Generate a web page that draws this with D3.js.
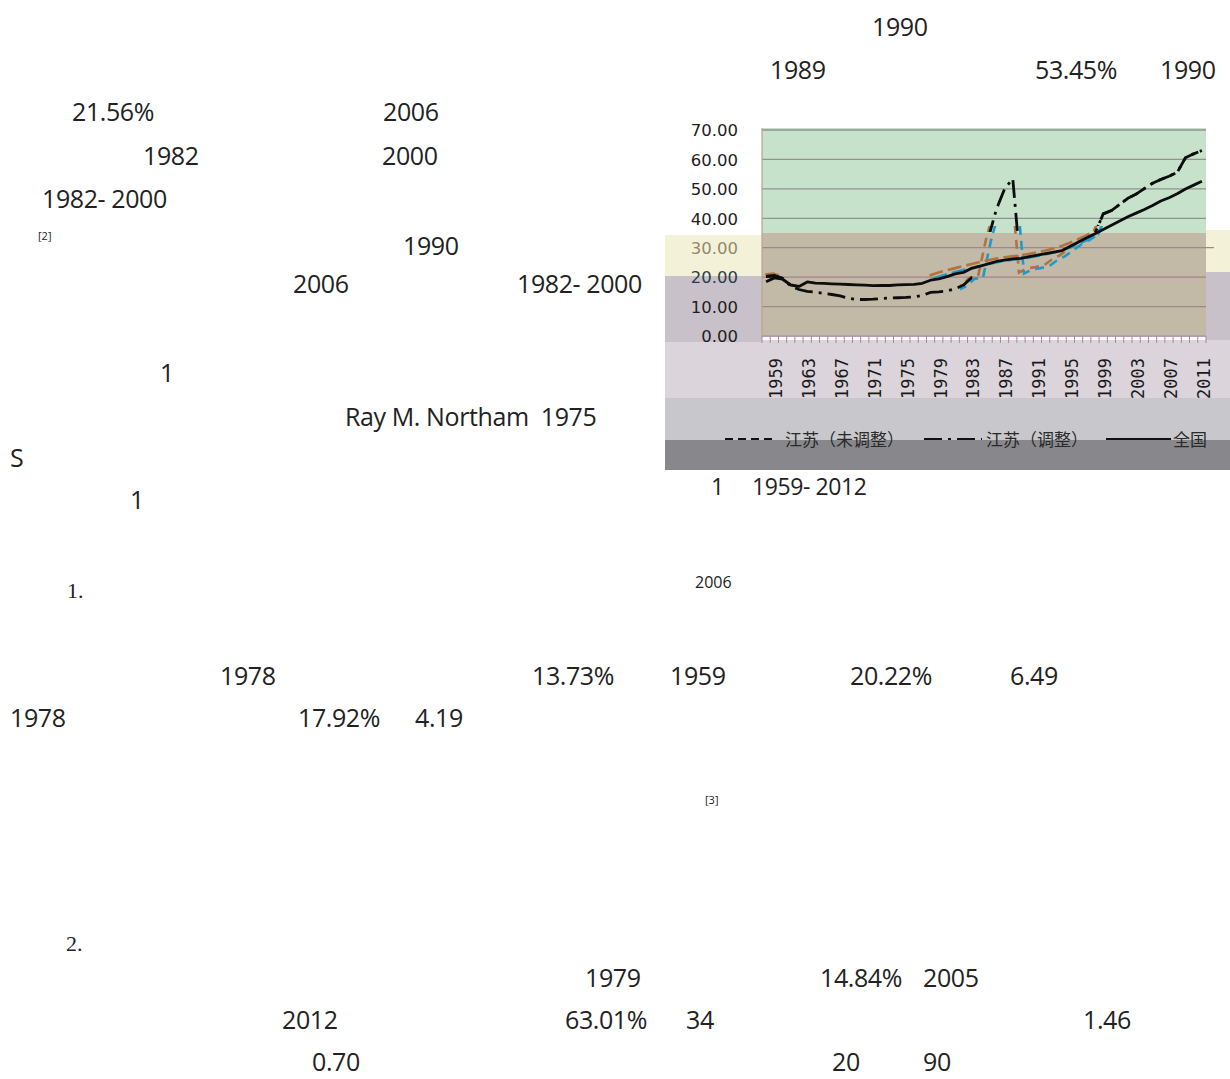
<!DOCTYPE html>
<html><head><meta charset="utf-8">
<script src="https://cdn.jsdelivr.net/npm/d3@7/dist/d3.min.js"></script>
<style>
html,body{margin:0;padding:0;background:#fff;}
svg{display:block;}
</style></head>
<body>
<svg id="page" width="1230" height="1079"></svg>
<script>
// ---------- data ----------
const years = [1959,1960,1961,1962,1963,1964,1965,1966,1967,1968,1969,1970,1971,1972,1973,1974,1975,1976,1977,1978,
  1979,1980,1981,1982,1983,1984,1985,1986,1987,1988,1989,1990,1991,1992,1993,1994,1995,1996,1997,1998,
  1999,2000,2001,2002,2003,2004,2005,2006,2007,2008,2009,2010,2011,2012];
const national = [18.41,19.75,19.29,17.33,16.84,18.37,17.98,17.86,17.74,17.62,
  17.50,17.38,17.26,17.13,17.20,17.16,17.34,17.44,17.55,17.92,
  18.96,19.39,20.16,21.13,21.62,23.01,23.71,24.52,25.32,25.81,
  26.21,26.41,26.94,27.46,27.99,28.51,29.04,30.48,31.91,33.35,
  34.78,36.22,37.66,39.09,40.53,41.76,42.99,44.34,45.89,46.99,
  48.34,49.95,51.27,52.57];
const jiangsuRaw = [20.22,20.50,19.60,17.00,15.80,15.20,14.90,14.50,14.10,13.60,
  12.80,12.40,12.40,12.50,12.70,12.90,13.00,13.10,13.30,13.73,
  14.84,15.00,15.30,16.00,17.30,19.80,20.00,33.00,43.00,50.00,
  53.45,21.56,23.00,23.40,24.00,26.00,27.50,29.50,31.50,33.00,
  34.90,41.50,42.60,44.70,46.80,48.20,50.10,51.90,53.20,54.30,
  55.60,60.58,61.90,63.01];
const jiangsuAdj = [20.22,20.50,19.60,null,null,null,null,null,null,null,
  null,null,null,null,null,null,null,null,null,null,
  19.90,20.80,21.60,22.30,23.00,23.70,24.40,25.00,25.60,26.00,
  26.40,26.70,27.20,27.70,28.30,29.00,29.80,30.90,32.10,33.40,
  34.90,41.50,42.60,44.70,46.80,48.20,50.10,51.90,53.20,54.30,
  55.60,60.58,61.90,63.01];
const yTicks = [0,10,20,30,40,50,60,70];
const labelYears = [1959,1963,1967,1971,1975,1979,1983,1987,1991,1995,1999,2003,2007,2011];
const legendNames = ["江苏（未调整）","江苏（调整）","全国"];

// page text fragments [text, x, baseline, kind]
const pageText = [
  ["1990",872,36,"s"],["1989",770,79,"s"],["53.45%",1035,79,"s"],["1990",1160,79,"s"],
  ["21.56%",72,121,"s"],["2006",383,121,"s"],
  ["1982",143,165,"s"],["2000",382,165,"s"],
  ["1982- 2000",42,208,"s"],["[2]",38,240,"r"],["1990",403,255,"s"],
  ["2006",293,293,"s"],["1982- 2000",517,293,"s"],
  ["1",160,382,"s"],["Ray M. Northam  1975",345,426,"s"],
  ["S",10,467,"s"],["1",130,509,"s"],
  ["1",711,495,"c"],["1959- 2012",752,495,"c"],
  ["1.",67,598,"serif"],["2006",695,588,"m"],
  ["1978",220,685,"s"],["13.73%",532,685,"s"],["1959",670,685,"s"],["20.22%",850,685,"s"],["6.49",1010,685,"s"],
  ["1978",10,727,"s"],["17.92%",298,727,"s"],["4.19",415,727,"s"],
  ["[3]",705,804,"r"],
  ["2.",66,951,"serif"],
  ["1979",585,987,"s"],["14.84%",820,987,"s"],["2005",923,987,"s"],
  ["2012",282,1029,"s"],["63.01%",565,1029,"s"],["34",686,1029,"s"],["1.46",1083,1029,"s"],
  ["0.70",312,1071,"s"],["20",832,1071,"s"],["90",923,1071,"s"]
];

// ---------- drawing ----------
(function(){
const svg = d3.select("#page");

const fontFor = {
  s:{f:"'Open Sans', sans-serif", z:25},
  c:{f:"'Open Sans', sans-serif", z:23},
  m:{f:"'Open Sans', sans-serif", z:16},
  r:{f:"'Open Sans', sans-serif", z:11},
  serif:{f:"'Liberation Serif', serif", z:22}
};
svg.append("g").selectAll("text").data(pageText).join("text")
  .attr("x", d=>d[1]).attr("y", d=>d[2])
  .attr("font-family", d=>fontFor[d[3]].f)
  .attr("font-size", d=>fontFor[d[3]].z)
  .attr("letter-spacing", d=>d[3]==="s"||d[3]==="c"?-0.4:0)
  .attr("fill", "#222")
  .style("white-space","pre")
  .text(d=>d[0]);

// chart geometry
const pl = 762, pr = 1206, pt = 128, pb = 336;
const x = d3.scaleBand().domain(years).range([pl, pr]).padding(0);
const bw = x.bandwidth();
const cx = yr => x(yr) + bw/2;
const y = d3.scaleLinear().domain([0,70]).range([pb, 130]);

const defs = svg.append("defs");
const chart = svg.append("g");

const bg = [
  [665,340,565,58,"#dbd5db"],
  [665,398,565,42,"#c8c8cc"],
  [665,440,565,30,"#88888c"],
  [665,235,97,41,"#f4f1d9"],
  [665,276,97,66,"#c9c1ca"],
  [1206,230,24,42,"#f4f1d9"],
  [1206,272,24,68,"#c9c1ca"],
  [pl,pt,pr-pl,105,"#c6e2ca"],
  [pl,233,pr-pl,pb-233+1,"#c2b9a7"]
];
chart.append("g").selectAll("rect").data(bg).join("rect")
  .attr("x",d=>d[0]).attr("y",d=>d[1]).attr("width",d=>d[2]).attr("height",d=>d[3]).attr("fill",d=>d[4]);

// gridlines
chart.append("g").selectAll("line").data(yTicks.filter(v=>v>0)).join("line")
  .attr("x1", pl).attr("x2", d=> d===30 ? pr+8 : pr)
  .attr("y1", d=>y(d)).attr("y2", d=>y(d))
  .attr("stroke", d=> y(d) < 233 ? "#8e9591" : "#a3868a")
  .attr("stroke-width", 1.3);

chart.append("line").attr("x1",pl).attr("x2",pl).attr("y1",pt).attr("y2",pb)
  .attr("stroke","#b9a38f").attr("stroke-width",1.2);
chart.append("line").attr("x1",pl).attr("x2",pr).attr("y1",pb).attr("y2",pb)
  .attr("stroke","#a98aa6").attr("stroke-width",1);
const bounds = years.map(yr=>x(yr)).concat([pr]);
chart.append("g").selectAll("line").data(bounds).join("line")
  .attr("x1",d=>d).attr("x2",d=>d).attr("y1",pb).attr("y2",pb+7)
  .attr("stroke","#a582a5").attr("stroke-width",1);

// y axis labels
const yAxis = d3.axisLeft(y).tickValues(yTicks).tickFormat(d3.format(".2f")).tickSize(0).tickPadding(0);
const ya = chart.append("g").attr("transform",`translate(${pl-24},0)`).call(yAxis);
ya.select(".domain").remove();
ya.selectAll("text").attr("font-family","'DejaVu Sans', sans-serif").attr("font-size",16.5)
  .attr("fill", d=> d===30 ? "#8f8a6a" : (d===20 ? "#2c3c46" : "#1e1e1e")).attr("dy","0.35em");

// x tick labels
chart.append("g").selectAll("text").data(labelYears).join("text")
  .attr("transform", d=>`translate(${cx(d)+16},358) rotate(-90)`)
  .attr("text-anchor","end")
  .attr("font-family","'DejaVu Sans Mono', monospace").attr("font-size",17)
  .attr("fill","#1a1a1a")
  .text(d=>String(d));

// clip paths
defs.append("clipPath").attr("id","plot").append("rect")
  .attr("x",pl).attr("y",120).attr("width",pr-pl+2).attr("height",pb-120);
defs.append("clipPath").attr("id","noband").append("path")
  .attr("clip-rule","evenodd")
  .attr("d",`M${pl},110H${pr+2}V${pb}H${pl}Z M978,232H1100V300H978Z`);
defs.append("clipPath").attr("id","noband2").append("path")
  .attr("clip-rule","evenodd")
  .attr("d",`M${pl},110H${pr+2}V${pb}H${pl}Z M925,226H1104V300H925Z`);
defs.append("clipPath").attr("id","bandRaw").append("rect")
  .attr("x",960).attr("y",226).attr("width",150).attr("height",74);
defs.append("clipPath").attr("id","bandAdj").append("rect")
  .attr("x",pl).attr("y",226).attr("width",pr-pl).attr("height",56);

const series = (vals) => years.map((yr,i)=>({yr, v: vals[i]}));
const line = d3.line().defined(d=>d.v!=null).x(d=>cx(d.yr)).y(d=>y(d.v));

const lines = chart.append("g").attr("clip-path","url(#plot)");

const colourCopies = [
  {vals: jiangsuRaw, clip:"bandRaw", col:"#b3723f", dx:-2, dy:0, dash:"9,6"},
  {vals: jiangsuRaw, clip:"bandRaw", col:"#1d9cc8", dx:3, dy:1, dash:"9,6"},
  {vals: jiangsuAdj, clip:"bandAdj", col:"#b3723f", dx:-1, dy:-2, dash:"14,5"},
  {vals: jiangsuAdj, clip:"bandAdj", col:"#1d9cc8", dx:3, dy:1, dash:"14,5"}
];
lines.selectAll("g.cc").data(colourCopies).join("g").attr("class","cc")
  .attr("clip-path", d=>`url(#${d.clip})`)
  .append("path")
  .attr("transform", d=>`translate(${d.dx},${d.dy})`)
  .attr("d", d=>line(series(d.vals)))
  .attr("fill","none").attr("stroke",d=>d.col).attr("stroke-width",2.6)
  .attr("stroke-dasharray",d=>d.dash);

lines.append("path").attr("d", line(series(national)))
  .attr("fill","none").attr("stroke","#0d0d0d").attr("stroke-width",2.8)
  .attr("stroke-linejoin","round");
lines.append("g").attr("clip-path","url(#noband2)").append("path")
  .attr("d", line(series(jiangsuAdj)))
  .attr("fill","none").attr("stroke","#0d0d0d").attr("stroke-width",2.8)
  .attr("stroke-dasharray","16,6,3,6");
lines.append("g").attr("clip-path","url(#noband)").append("path")
  .attr("d", line(series(jiangsuRaw)))
  .attr("fill","none").attr("stroke","#0d0d0d").attr("stroke-width",2.8)
  .attr("stroke-dasharray","18,6,3,6");

// legend
const legend = [
  {x1:725,x2:775,tx:785,dash:"8,5",name:legendNames[0]},
  {x1:924,x2:982,tx:986,dash:"18,6,3,6",name:legendNames[1]},
  {x1:1106,x2:1171,tx:1173,dash:null,name:legendNames[2]}
];
const lg = chart.append("g");
lg.selectAll("line").data(legend).join("line")
  .attr("x1",d=>d.x1).attr("x2",d=>d.x2).attr("y1",439).attr("y2",439)
  .attr("stroke","#111").attr("stroke-width",2.2)
  .attr("stroke-dasharray",d=>d.dash);
lg.selectAll("text").data(legend).join("text")
  .attr("x",d=>d.tx).attr("y",445.5)
  .attr("font-family","'Noto Sans CJK SC', sans-serif").attr("font-size",17)
  .attr("fill","#2a2a2a")
  .text(d=>d.name);
})();
</script>
</body></html>
